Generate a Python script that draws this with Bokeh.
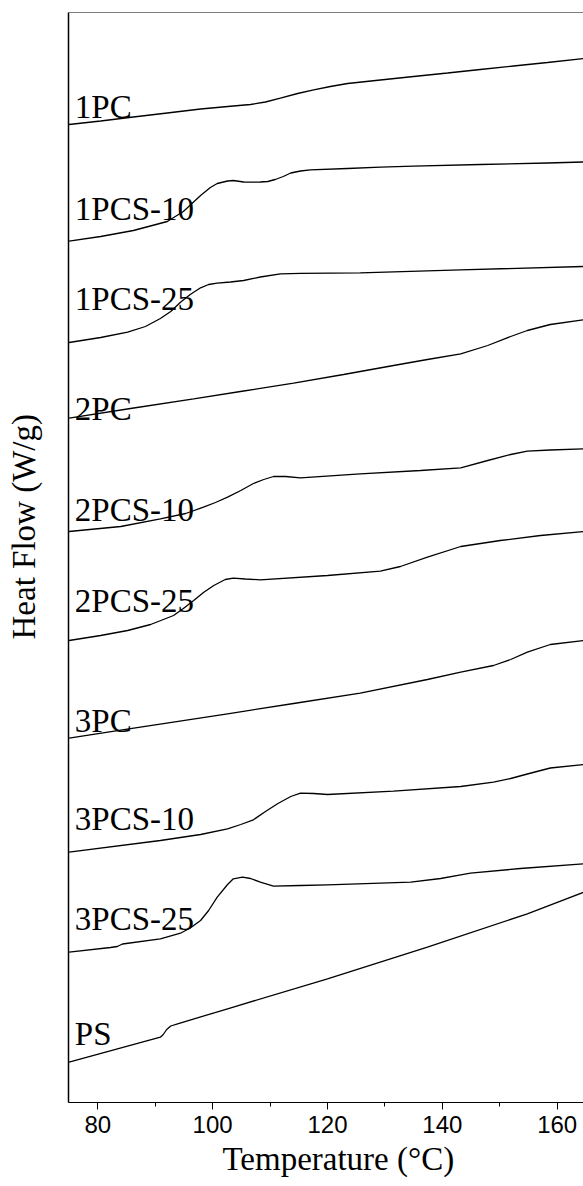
from bokeh.plotting import figure
from bokeh.models import Range1d, ColumnDataSource, Span, FixedTicker, Title
from bokeh.core.properties import value
from bokeh.embed import file_html
from bokeh.resources import INLINE

# ---- data (temperature in degC, heat flow in arbitrary offset units) ----
t_1pc = [75.0, 80.5, 86.2, 92.1, 97.9, 103.6, 106.6, 109.2, 111.8, 114.8, 117.6, 120.5, 123.5, 129.2, 135.0, 140.9, 146.6, 152.4, 158.3, 164.6]
hf_1pc = [97.8, 98.15, 98.55, 98.95, 99.35, 99.65, 99.8, 100.05, 100.43, 100.9, 101.27, 101.6, 101.9, 102.25, 102.6, 102.95, 103.3, 103.65, 104.0, 104.4]

t_1pcs10 = [75.0, 80.5, 86.2, 92.1, 94.9, 97.9, 99.6, 100.8, 102.6, 103.6, 105.4, 106.6, 108.3, 109.6, 110.9, 112.3, 113.6, 115.3, 117.0, 123.5, 129.2, 135.0, 146.6, 158.3, 164.6]
hf_1pcs10 = [86.13, 86.6, 87.2, 88.1, 89.1, 90.7, 91.5, 91.9, 92.15, 92.2, 92.05, 92.03, 92.05, 92.1, 92.3, 92.6, 92.95, 93.15, 93.27, 93.4, 93.53, 93.63, 93.8, 93.95, 94.05]

t_1pcs25 = [75.0, 80.5, 85.2, 88.3, 90.9, 92.7, 94.4, 96.1, 97.9, 99.3, 100.8, 103.1, 105.4, 108.3, 111.8, 115.3, 125.7, 143.2, 164.6]
hf_1pcs25 = [76.0, 76.5, 77.03, 77.6, 78.4, 79.1, 80.03, 80.8, 81.47, 81.8, 81.93, 82.05, 82.2, 82.55, 82.87, 82.92, 82.97, 83.27, 83.6]

t_2pc = [75.0, 85.7, 96.7, 105.4, 114.1, 122.8, 131.5, 137.4, 143.2, 147.9, 151.9, 154.8, 158.8, 164.6]
hf_2pc = [68.43, 69.4, 70.37, 71.15, 71.93, 72.8, 73.7, 74.3, 74.87, 75.7, 76.6, 77.2, 77.8, 78.27]

t_2pcs10 = [75.0, 84.0, 90.9, 95.3, 98.4, 100.5, 102.6, 104.9, 107.1, 108.9, 110.6, 112.7, 115.3, 125.7, 136.2, 143.2, 147.9, 151.9, 154.8, 158.8, 164.6]
hf_2pcs10 = [57.1, 57.6, 58.37, 58.9, 59.53, 60.0, 60.53, 61.2, 61.9, 62.3, 62.6, 62.6, 62.47, 62.87, 63.2, 63.47, 64.2, 64.8, 65.13, 65.25, 65.37]

t_2pcs25 = [75.0, 80.5, 85.2, 89.2, 93.2, 94.9, 96.7, 98.4, 100.2, 102.2, 103.6, 105.7, 108.3, 120.0, 129.2, 132.7, 137.4, 143.2, 150.1, 157.1, 164.6]
hf_2pcs25 = [46.2, 46.7, 47.2, 47.8, 48.7, 49.4, 50.2, 51.0, 51.7, 52.3, 52.43, 52.35, 52.27, 52.7, 53.13, 53.6, 54.53, 55.6, 56.2, 56.7, 57.1]

t_3pc = [75.0, 85.7, 102.6, 114.1, 125.7, 137.4, 143.2, 148.9, 151.9, 154.8, 158.8, 164.6]
hf_3pc = [36.43, 37.38, 38.87, 39.9, 40.93, 42.3, 43.03, 43.7, 44.3, 45.03, 45.8, 46.2]

t_3pcs10 = [75.0, 90.9, 97.9, 102.6, 104.9, 107.1, 109.2, 111.3, 113.6, 115.3, 117.6, 120.0, 131.5, 143.2, 148.9, 151.9, 154.8, 158.8, 164.6]
hf_3pcs10 = [25.03, 26.2, 26.8, 27.37, 27.8, 28.27, 29.1, 29.87, 30.6, 30.93, 30.9, 30.8, 31.13, 31.6, 32.03, 32.4, 32.85, 33.45, 33.8]

t_3pcs25 = [75.0, 82.2, 83.4, 84.3, 90.9, 94.4, 96.1, 97.9, 99.3, 100.8, 102.6, 103.6, 105.2, 106.6, 108.3, 110.6, 115.3, 120.0, 134.5, 139.7, 143.2, 144.9, 153.6, 164.6]
hf_3pcs25 = [15.03, 15.5, 15.6, 15.85, 16.37, 16.93, 17.45, 18.2, 19.2, 20.53, 21.8, 22.37, 22.53, 22.4, 22.03, 21.63, 21.7, 21.77, 22.03, 22.4, 22.77, 22.93, 23.4, 23.87]

t_ps = [75.0, 90.9, 91.4, 92.0, 92.7, 93.9, 102.6, 120.0, 137.4, 154.8, 164.6]
hf_ps = [4.03, 6.53, 6.8, 7.3, 7.65, 7.87, 9.37, 12.37, 15.53, 18.87, 21.03]

series_names = ["1PC", "1PCS-10", "1PCS-25", "2PC", "2PCS-10", "2PCS-25", "3PC", "3PCS-10", "3PCS-25", "PS"]
label_x = [76.0] * 10
label_y = [99.53, 89.37, 80.37, 69.37, 59.3, 50.2, 38.2, 28.37, 18.37, 6.87]

x_ticks = [80, 100, 120, 140, 160]
x_minor = [90, 110, 130, 150]

series = [
    (t_1pc, hf_1pc), (t_1pcs10, hf_1pcs10), (t_1pcs25, hf_1pcs25), (t_2pc, hf_2pc),
    (t_2pcs10, hf_2pcs10), (t_2pcs25, hf_2pcs25), (t_3pc, hf_3pc), (t_3pcs10, hf_3pcs10),
    (t_3pcs25, hf_3pcs25), (t_ps, hf_ps),
]

SERIF = "Liberation Serif"
SANS = "Liberation Sans"

p = figure(width=583, height=1186, output_backend="svg", toolbar_location=None,
           x_range=Range1d(74.9, 164.58), y_range=Range1d(0, 109.0),
           min_border_left=68, min_border_right=0, min_border_top=12, min_border_bottom=84)
p.background_fill_color = "white"
p.border_fill_color = "white"
p.outline_line_color = None
p.xgrid.visible = False
p.ygrid.visible = False

for tx, hy in series:
    p.line(tx, hy, line_color="black", line_width=1.3)

src = ColumnDataSource(dict(x=label_x, y=label_y, text=series_names))
p.text(x="x", y="y", text="text", source=src, text_font=value(SERIF), text_font_size="33px",
       text_baseline="alphabetic", text_align="left", text_color="black")

# x axis
xa = p.xaxis[0]
xa.ticker = FixedTicker(ticks=x_ticks, minor_ticks=x_minor)
xa.axis_line_color = "black"
xa.axis_line_width = 1.2
xa.major_tick_line_color = "black"
xa.major_tick_out = 7
xa.major_tick_in = 0
xa.minor_tick_line_color = "black"
xa.minor_tick_out = 4
xa.minor_tick_in = 0
xa.major_label_text_font = SANS
xa.major_label_text_font_size = "24px"
xa.major_label_text_color = "black"
xa.major_label_standoff = 6

# y axis: line only; one invisible tick gives spacing for the title
ya = p.yaxis[0]
ya.ticker = FixedTicker(ticks=[54.5])
ya.axis_line_color = "black"
ya.axis_line_width = 1.5
ya.major_tick_line_color = None
ya.minor_tick_line_color = None
ya.major_tick_out = 25
ya.major_tick_in = 0
ya.major_label_standoff = 0
ya.major_label_text_font_size = "0px"
ya.major_label_text_color = None

# top frame line
p.add_layout(Span(location=109.0, dimension="width", line_color="black", line_width=1.2))

# axis titles
p.add_layout(Title(text="Temperature (°C)", align="left", offset=154, vertical_align="bottom",
                   standoff=7, text_font=SERIF, text_font_size="33px", text_font_style="normal",
                   text_color="black"), "below")
p.add_layout(Title(text="Heat Flow (W/g)", align="left", offset=463, vertical_align="top",
                   standoff=0, text_font=SERIF, text_font_size="33px", text_font_style="normal",
                   text_color="black"), "left")

open("out.html", "w").write(file_html(p, INLINE))
